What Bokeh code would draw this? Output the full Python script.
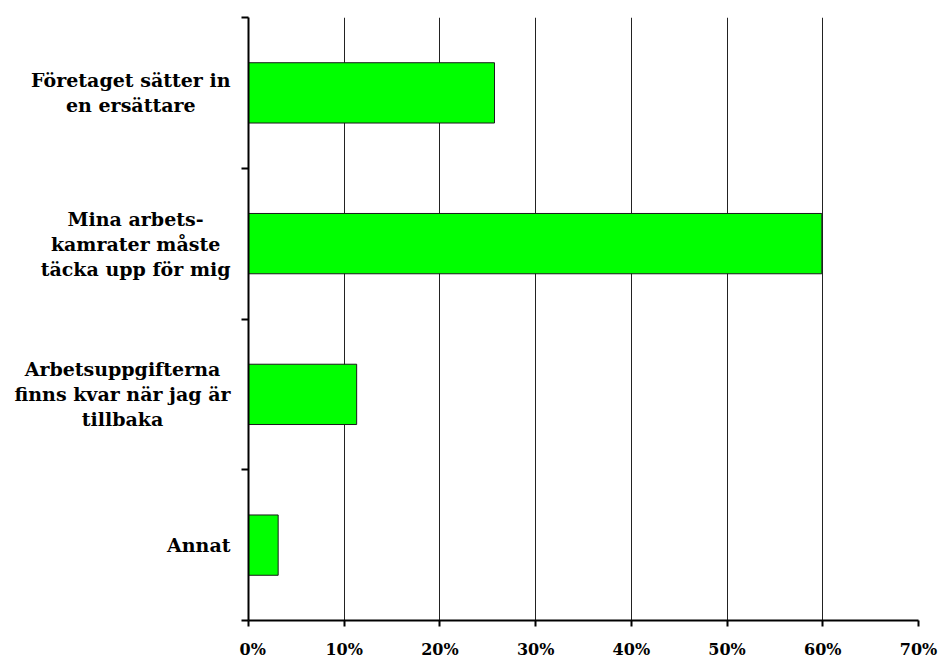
from bokeh.plotting import figure
from bokeh.layouts import row
from bokeh.models import FixedTicker, Range1d, ColumnDataSource
from bokeh.core.properties import value
from bokeh.embed import file_html
from bokeh.resources import INLINE

# Survey answers (share of respondents, %)
categories = [
    "Företaget sätter in\nen ersättare",
    "Mina arbets-\nkamrater måste\ntäcka upp för mig",
    "Arbetsuppgifterna\nfinns kvar när jag är\ntillbaka",
    "Annat",
]
shares = [25.7, 59.9, 11.3, 3.1]
x_ticks = [0, 10, 20, 30, 40, 50, 60, 70]
x_tick_labels = ["0%", "10%", "20%", "30%", "40%", "50%", "60%", "70%"]

FONT = "DejaVu Serif"
n = len(categories)
# first category at the top, each one centred in its unit band
y_pos = [n - i - 0.5 for i in range(n)]
y_range = Range1d(0, n)

TOP, BOTTOM = 17, 39
LABEL_W = 239

# --- category names, in a narrow panel left of the chart ---
names = figure(
    width=LABEL_W, height=661,
    x_range=Range1d(0, LABEL_W), y_range=y_range,
    output_backend="svg", toolbar_location=None,
    min_border_left=0, min_border_right=0,
    min_border_top=TOP, min_border_bottom=BOTTOM,
)
names.axis.visible = False
names.grid.visible = False
names.outline_line_color = None
names.border_fill_color = "white"
names.background_fill_color = "white"
src = ColumnDataSource(dict(name=categories, y=y_pos, x=[LABEL_W - 9] * n))
names.text(x="x", y="y", text="name", source=src,
           anchor="center_right", text_align="center",
           text_font=value(FONT), text_font_style="bold", text_font_size="19px",
           text_color="black", text_line_height=1.14)

# --- bar chart ---
p = figure(
    width=942 - LABEL_W, height=661,
    x_range=Range1d(0, 70), y_range=y_range,
    output_backend="svg", toolbar_location=None,
    min_border_left=9, min_border_right=24,
    min_border_top=TOP, min_border_bottom=BOTTOM,
)
p.outline_line_color = None
p.background_fill_color = "white"
p.border_fill_color = "white"

p.hbar(y=y_pos, left=0, right=shares, height=0.4,
       fill_color="#00FF00", line_color="#1a1a1a", line_width=1)

# value axis
xa = p.xaxis[0]
xa.ticker = FixedTicker(ticks=x_ticks)
xa.major_label_overrides = {t: s for t, s in zip(x_ticks, x_tick_labels)}
xa.major_label_text_font = FONT
xa.major_label_text_font_style = "bold"
xa.major_label_text_font_size = "16px"
xa.major_label_text_color = "black"
xa.major_label_standoff = 13
xa.axis_line_width = 2
xa.axis_line_color = "black"
xa.major_tick_in = 0
xa.major_tick_out = 6
xa.major_tick_line_width = 2
xa.minor_tick_line_color = None

# category axis: only separator marks at the band edges
ya = p.yaxis[0]
ya.ticker = FixedTicker(ticks=[], minor_ticks=list(range(n + 1)))
ya.axis_line_width = 2
ya.axis_line_color = "black"
ya.major_tick_line_color = None
ya.minor_tick_in = 0
ya.minor_tick_out = 7
ya.minor_tick_line_width = 2
ya.minor_tick_line_color = "black"

p.xgrid.grid_line_color = "#222222"
p.xgrid.grid_line_width = 1
p.ygrid.grid_line_color = None

layout = row(names, p, spacing=0)
open("out.html", "w").write(file_html(layout, INLINE))
